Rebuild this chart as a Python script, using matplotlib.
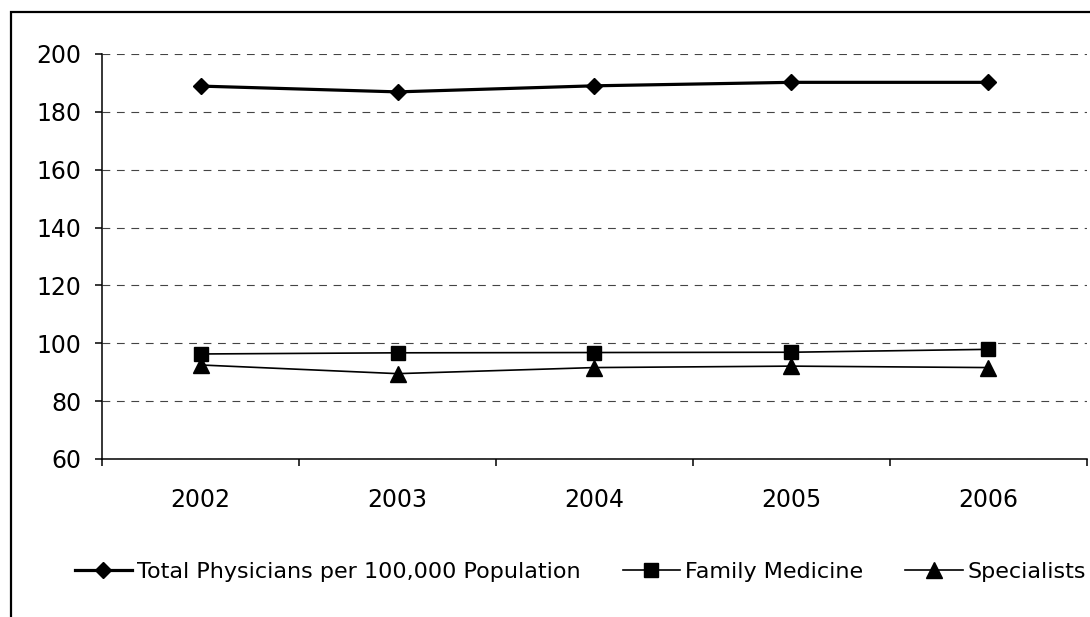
import matplotlib.pyplot as plt
from matplotlib.patches import Rectangle

years = ['2002', '2003', '2004', '2005', '2006']
total = [188.9, 186.9, 189.0, 190.2, 190.2]
family = [96.3, 96.7, 96.8, 96.9, 97.9]
specialists = [92.5, 89.5, 91.6, 92.1, 91.6]

plt.rcParams['font.family'] = 'DejaVu Sans'
plt.rcParams['font.size'] = 17

fig = plt.figure(figsize=(10.9, 6.17), dpi=100)
ax = fig.add_axes([0.0936, 0.2561, 0.9036, 0.6564])

x = list(range(len(years)))
ax.plot(x, total, color='black', lw=2.3, marker='D', markersize=8,
        label='Total Physicians per 100,000 Population')
ax.plot(x, family, color='black', lw=1.2, marker='s', markersize=10.5,
        label='Family Medicine')
ax.plot(x, specialists, color='black', lw=1.2, marker='^', markersize=12,
        label='Specialists')

ax.set_ylim(60, 200)
ax.set_yticks(range(60, 201, 20))
ax.set_xlim(-0.5, len(years) - 0.5)

# category boundaries get the tick marks, labels sit between them
ax.set_xticks([i - 0.5 for i in range(len(years) + 1)])
ax.set_xticklabels([])
ax.set_xticks(x, minor=True)
ax.set_xticklabels(years, minor=True)
ax.tick_params(axis='x', which='major', direction='out', length=5, width=1.1)
ax.tick_params(axis='x', which='minor', length=0, pad=21)
ax.tick_params(axis='y', direction='out', length=5, width=1.1, pad=10)

ax.yaxis.grid(True, linestyle=(0, (7, 6)), color='#444444', lw=0.8)
ax.set_axisbelow(True)
for side in ['top', 'right']:
    ax.spines[side].set_visible(False)
for side in ['left', 'bottom']:
    ax.spines[side].set_linewidth(1.1)

fig.legend(loc='center left', bbox_to_anchor=(0.05, 0.073), ncol=3, frameon=False,
           handlelength=2.6, handletextpad=0.2, columnspacing=1.9,
           fontsize=16)

# outer frame of the chart
fig.patches.append(Rectangle((11 / 1090, -0.1), 1.2, 1 - 12 / 617 + 0.1,
                             transform=fig.transFigure, fill=False,
                             edgecolor='black', lw=1.6))

fig.savefig('out.png', dpi=100)
